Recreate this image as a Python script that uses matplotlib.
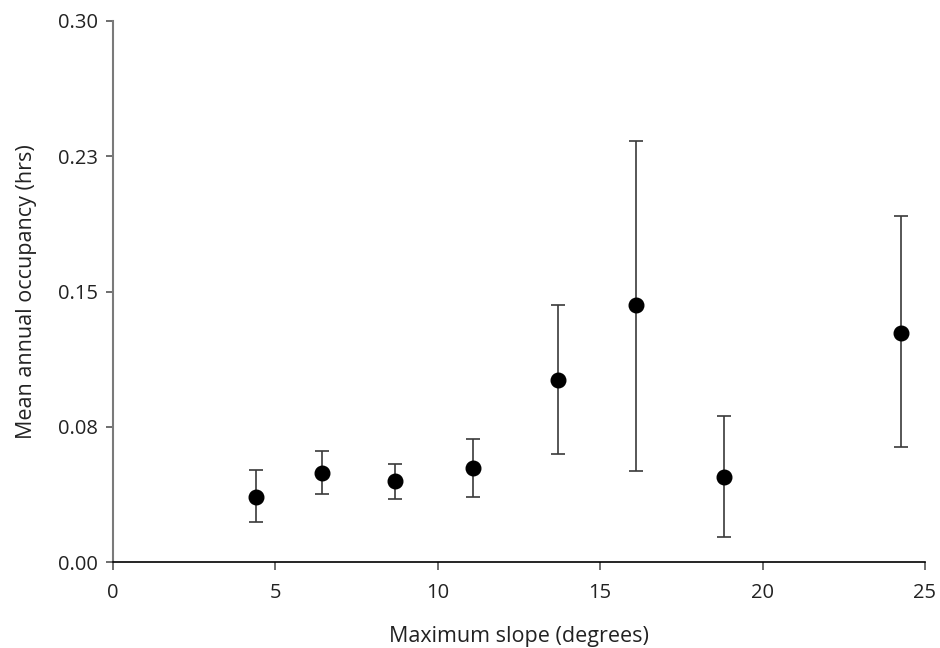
import numpy as np
import matplotlib.pyplot as plt

plt.rcParams['font.family'] = ['Open Sans', 'DejaVu Sans']

# values
slope = np.array([4.39, 6.43, 8.68, 11.09, 13.69, 16.11, 18.82, 24.26])
occupancy = np.array([0.0363, 0.0496, 0.0450, 0.0524, 0.1011, 0.1426, 0.0474, 0.1268])
err_low = np.array([0.0221, 0.0378, 0.0348, 0.0361, 0.0600, 0.0502, 0.0141, 0.0639])
err_high = np.array([0.0511, 0.0613, 0.0546, 0.0683, 0.1426, 0.2333, 0.0811, 0.1920])

y_ticks = [0.0, 0.075, 0.15, 0.225, 0.30]
y_tick_labels = ['0.00', '0.08', '0.15', '0.23', '0.30']
x_ticks = [0, 5, 10, 15, 20, 25]

fig = plt.figure(figsize=(9.4, 6.48), dpi=100)
ax = fig.add_axes([0.1202, 0.1327, 0.8638, 0.8349])

yerr = np.vstack([occupancy - err_low, err_high - occupancy])
ax.errorbar(slope, occupancy, yerr=yerr, fmt='o', color='black',
            ecolor='#3a3a3a', elinewidth=1.2, capsize=5, capthick=1.2,
            markersize=10.5, zorder=3)

ax.set_xlim(0, 25)
ax.set_ylim(0, 0.30)
ax.set_xticks(x_ticks)
ax.set_yticks(y_ticks)
ax.set_yticklabels(y_tick_labels)

for s in ['top', 'right']:
    ax.spines[s].set_visible(False)
ax.spines['left'].set_color('#7a7a7a')
ax.spines['left'].set_linewidth(1.5)
ax.spines['bottom'].set_color('black')
ax.spines['bottom'].set_linewidth(1.2)

ax.tick_params(axis='y', direction='out', length=5, width=1.2, color='#555555',
               labelsize=14.5, pad=6, labelcolor='#222222')
ax.tick_params(axis='x', direction='out', length=6, width=1.2, color='#555555',
               labelsize=14.5, pad=9, labelcolor='#222222')

ax.set_xlabel('Maximum slope (degrees)', fontsize=15.5, color='#222222', labelpad=17)
ax.set_ylabel('Mean annual occupancy (hrs)', fontsize=15.5, color='#222222', labelpad=15)

fig.savefig('out.png', dpi=100)
